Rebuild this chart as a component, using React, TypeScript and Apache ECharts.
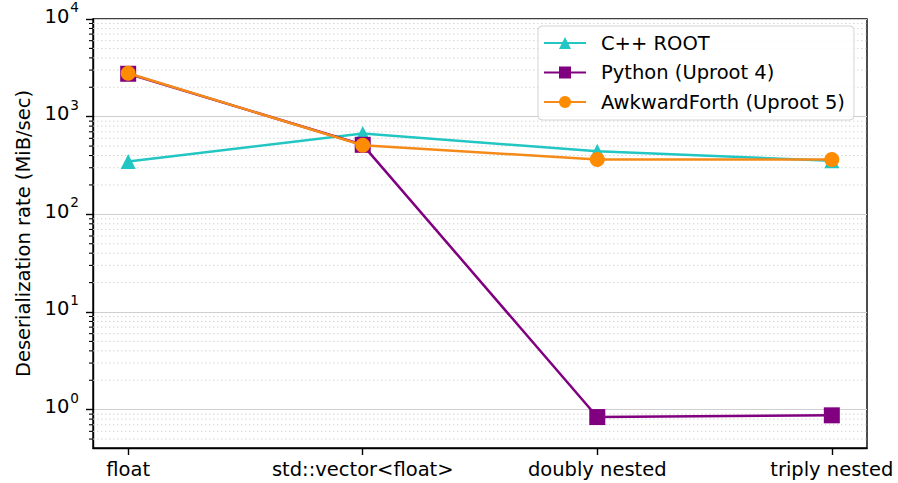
import React, { useEffect, useRef } from 'react';
import * as echarts from 'echarts';

const categories = ['float', 'std::vector<float>', 'doubly nested', 'triply nested'];
const categoryPositions = [0, 1, 2, 3];
const cppRoot = [348, 673, 442, 354];
const pythonUproot4 = [2750, 515, 0.84, 0.875];
const awkwardForth = [2780, 510, 364, 364];
const majorTickValues = [1, 10, 100, 1000, 10000];
const minorTickValues = [
  0.5, 0.6, 0.7, 0.8, 0.9,
  2, 3, 4, 5, 6, 7, 8, 9,
  20, 30, 40, 50, 60, 70, 80, 90,
  200, 300, 400, 500, 600, 700, 800, 900,
  2000, 3000, 4000, 5000, 6000, 7000, 8000, 9000,
];

const FONT = 'DejaVu Sans';

export default function App() {
  const ref = useRef<HTMLDivElement>(null);
  useEffect(() => {
    if (!ref.current) return;
    const chart = echarts.init(ref.current, undefined, { renderer: 'svg' });
    const toPts = (arr: number[]) => arr.map((v, i) => [categoryPositions[i], v]);
    chart.setOption({
      animation: false,
      backgroundColor: '#fff',
      grid: {
        left: 93,
        right: 31,
        top: 16,
        bottom: 35,
        show: true,
        borderColor: '#000',
        borderWidth: 1.4,
        backgroundColor: 'transparent',
      },
      legend: {
        orient: 'vertical',
        left: 538,
        top: 26,
        data: ['C++ ROOT', 'Python (Uproot 4)', 'AwkwardForth (Uproot 5)'],
        backgroundColor: 'rgba(255,255,255,0.85)',
        borderColor: '#d4d4d4',
        borderWidth: 1,
        borderRadius: 4,
        padding: [7, 9, 8, 5],
        itemGap: 9.5,
        itemWidth: 42,
        itemHeight: 15,
        textStyle: {
          fontFamily: FONT,
          fontSize: 19.5,
          color: '#000',
          lineHeight: 20,
          padding: [0, 0, 0, 10],
        },
      },
      xAxis: {
        type: 'value',
        min: -0.15,
        max: 3.15,
        axisLine: { show: true, onZero: false, lineStyle: { color: '#000', width: 1.4 } },
        axisTick: {
          show: true,
          length: 7,
          lineStyle: { color: '#000', width: 1.4 },
          customValues: categoryPositions,
        },
        axisLabel: {
          customValues: categoryPositions,
          formatter: (v: number) => categories[Math.round(v)] ?? '',
          fontFamily: FONT,
          fontSize: 19.5,
          color: '#000',
          margin: 11,
        },
        splitLine: { show: false },
      },
      yAxis: {
        type: 'log',
        logBase: 10,
        min: 0.405,
        max: 10000,
        name: 'Deserialization rate (MiB/sec)',
        nameLocation: 'middle',
        nameGap: 58,
        nameTextStyle: { fontFamily: FONT, fontSize: 19.5, color: '#000' },
        axisLine: { show: true, onZero: false, lineStyle: { color: '#000', width: 1.4 } },
        axisTick: {
          show: true,
          length: 7,
          lineStyle: { color: '#000', width: 1.4 },
          customValues: majorTickValues,
        },
        axisLabel: {
          customValues: majorTickValues,
          formatter: (v: number) => `{b|10}{s|${Math.round(Math.log10(v))}}`,
          margin: 14,
          padding: [0, 0, 6, 0],
          rich: {
            b: { fontFamily: FONT, fontSize: 19.5, color: '#000', lineHeight: 20, verticalAlign: 'bottom' },
            s: { fontFamily: FONT, fontSize: 13.6, color: '#000', lineHeight: 14, verticalAlign: 'bottom', padding: [0, 0, 12, 1] },
          },
        },
        splitLine: { show: true, lineStyle: { color: '#cfcfcf', width: 1.2 } },
      },
      series: [
        {
          type: 'custom',
          name: 'minor',
          silent: true,
          clip: false,
          z: 1,
          coordinateSystem: 'cartesian2d',
          encode: { x: 0, y: 1 },
          data: minorTickValues.map((v) => [0, v]),
          renderItem: (params: any, api: any) => {
            const pt = api.coord([0, api.value(1)]);
            const cs = params.coordSys;
            return {
              type: 'group',
              children: [
                {
                  type: 'line',
                  shape: { x1: cs.x, y1: pt[1], x2: cs.x + cs.width, y2: pt[1] },
                  style: { stroke: '#d2d2d2', lineWidth: 1, lineDash: [1.4, 2.6] },
                },
                {
                  type: 'line',
                  shape: { x1: cs.x - 4, y1: pt[1], x2: cs.x, y2: pt[1] },
                  style: { stroke: '#000', lineWidth: 1.1 },
                },
              ],
            };
          },
        },
        {
          type: 'line',
          name: 'C++ ROOT',
          data: toPts(cppRoot),
          z: 3,
          color: '#22c6c2',
          symbol: 'triangle',
          symbolSize: 15,
          lineStyle: { width: 2.5, color: '#22c6c2' },
          itemStyle: { color: '#22c6c2' },
        },
        {
          type: 'line',
          name: 'Python (Uproot 4)',
          data: toPts(pythonUproot4),
          z: 4,
          color: '#800080',
          symbol: 'rect',
          symbolSize: 16,
          lineStyle: { width: 2.5, color: '#800080' },
          itemStyle: { color: '#800080' },
        },
        {
          type: 'line',
          name: 'AwkwardForth (Uproot 5)',
          data: toPts(awkwardForth),
          z: 5,
          color: '#ff8c00',
          symbol: 'circle',
          symbolSize: 15,
          lineStyle: { width: 2.5, color: '#f68a18' },
          itemStyle: { color: '#ff8c00' },
        },
      ],
    });
    return () => chart.dispose();
  }, []);
  return <div ref={ref} style={{ width: 898, height: 483, position: 'absolute', left: 0, top: 0 }} />;
}
